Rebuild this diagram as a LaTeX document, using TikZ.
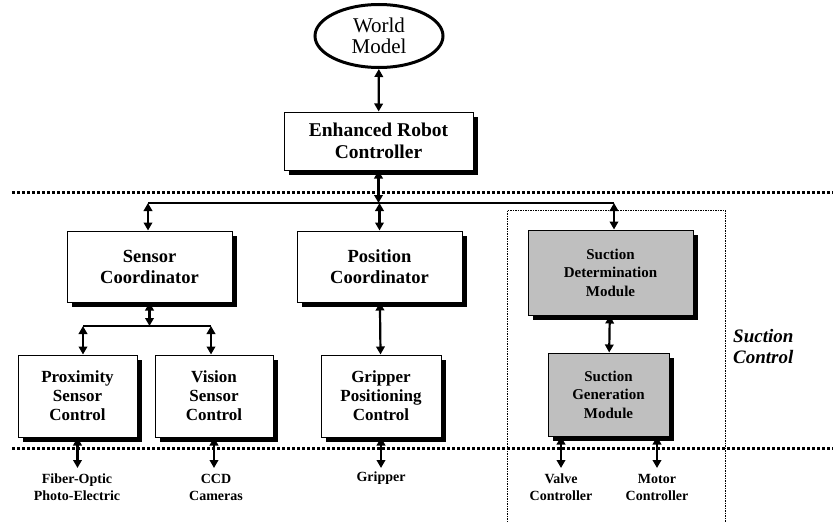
\documentclass[tikz,border=0pt]{standalone}
\usepackage{fontspec}
\setmainfont{Liberation Serif}
\usetikzlibrary{shapes.geometric,arrows.meta,positioning,shadows}

\begin{document}
\begin{tikzpicture}[x=1pt,y=-1pt,
  box/.style={draw,line width=1pt,fill=white,align=center,inner sep=0pt,
              font=\fontsize{18.5}{21}\selectfont\bfseries,
              drop shadow={shadow xshift=5pt,shadow yshift=-5pt,fill=black,opacity=1}},
  small/.style={box,font=\fontsize{17}{19}\selectfont\bfseries},
  suction/.style={small,fill=gray!50,font=\fontsize{15}{18.5}\selectfont\bfseries},
  lbl/.style={align=center,anchor=north,inner sep=4pt,
              font=\fontsize{14}{17}\selectfont\bfseries},
  dbl/.style={{Triangle[length=8pt,width=8.5pt]}-{Triangle[length=8pt,width=8.5pt]},line width=2.2pt},
  bus/.style={line width=2.5pt},
  sep/.style={line width=3pt,dash pattern=on 3pt off 2pt},
  zone/.style={line width=1pt,dash pattern=on 1.5pt off 1pt}]
  \useasboundingbox (0,0) rectangle (833,522);

  % layers and suction area
  \draw[sep] (12,192) -- (833,192);
  \draw[sep] (12,448) -- (833,448);
  \draw[zone] (507,522) -- (507,210) -- (725,210) -- (725,522);

  \node[draw,ellipse,line width=3pt,minimum width=128,minimum height=63,inner sep=0pt,
        align=center,font=\fontsize{21}{21}\selectfont] (world) at (379,36) {World\\Model};
  \node[box,minimum width=189,minimum height=58,font=\fontsize{19.5}{22}\selectfont\bfseries]
        (erc) at (378.5,141) {Enhanced Robot\\Controller};

  \node[box,minimum width=165,minimum height=71] (sc) at (149.5,266.5) {Sensor\\Coordinator};
  \node[box,minimum width=165,minimum height=71] (pc) at (379.5,266.5) {Position\\Coordinator};
  \node[suction,minimum width=165,minimum height=85] (sdm) at (610.5,272.5) {Suction\\Determination\\Module};
  \node[suction,minimum width=121,minimum height=83] (sgm) at (608.5,394.5) {Suction\\Generation\\Module};

  \node[small,minimum width=119,minimum height=82] (psc) at (77.5,396) {Proximity\\Sensor\\Control};
  \node[small,minimum width=118,minimum height=82] (vsc) at (214,396) {Vision\\Sensor\\Control};
  \node[small,minimum width=120,minimum height=82] (gpc) at (381,396) {Gripper\\Positioning\\Control};

  \node[anchor=north west,align=left,inner sep=0pt,
        font=\fontsize{19}{21}\selectfont\bfseries\itshape] (zonelbl) at (733,329) {Suction\\Control};

  % devices
  \node[lbl] (fo) at (77,470) {Fiber-Optic\\Photo-Electric};
  \node[lbl] (ccd) at (216,470) {CCD\\Cameras};
  \node[lbl] (grip) at (381,468) {Gripper};
  \node[lbl] (valve) at (561,470) {Valve\\Controller};
  \node[lbl] (motor) at (657,470) {Motor\\Controller};

  % buses
  \coordinate (busL) at (148,203);
  \coordinate (busR) at (614,203);
  \coordinate (subL) at (83,326);
  \coordinate (subR) at (211,326);
  \draw[bus] (busL) -- (busR);
  \draw[bus] (subL) -- (subR);

  \draw[dbl] (world) -- (erc);
  \draw[dbl] (erc) -- (erc |- busL);
  \draw[dbl] (busL) -- (busL |- sc.north);
  \draw[dbl] (pc |- busL) -- (pc);
  \draw[dbl] (busR) -- (busR |- sdm.north);
  \draw[dbl] (sdm) -- (sgm);
  \draw[dbl] (sc) -- (sc |- subL);
  \draw[dbl] (subL) -- (subL |- psc.north);
  \draw[dbl] (subR) -- (subR |- vsc.north);
  \draw[dbl] (pc) -- (gpc);

  \draw[dbl] (psc) -- (psc |- grip.north);
  \draw[dbl] (vsc) -- (vsc |- grip.north);
  \draw[dbl] (gpc) -- (grip);
  \draw[dbl] (valve |- sgm.south) -- (valve |- grip.north);
  \draw[dbl] (motor |- sgm.south) -- (motor |- grip.north);
\end{tikzpicture}
\end{document}
